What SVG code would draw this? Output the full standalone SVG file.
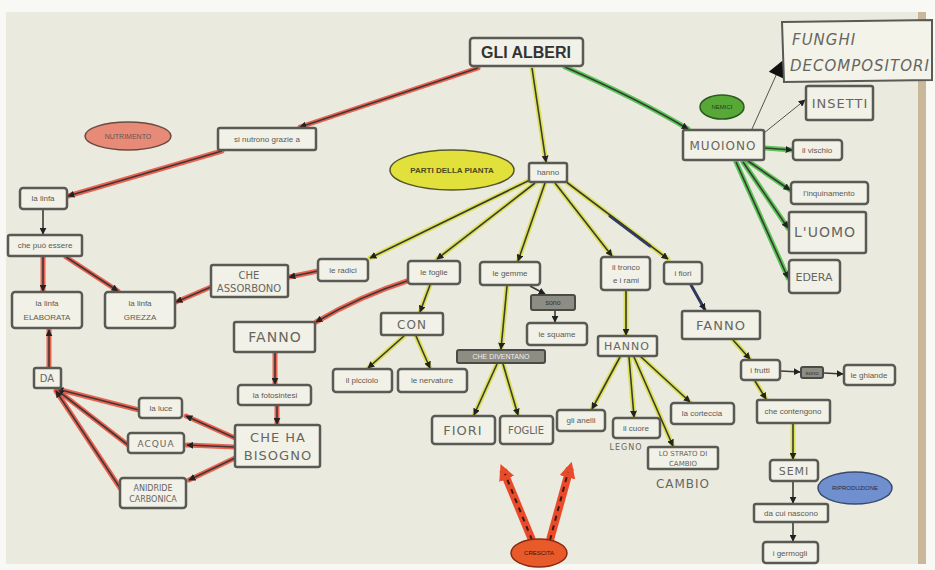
<svg xmlns="http://www.w3.org/2000/svg" width="935" height="570" viewBox="0 0 935 570">
<defs>
<style>
.bx{fill:#f2f1e7;stroke:#5a5a55;stroke-width:2.5}
.dk{fill:#8d8d84;stroke:#4a4a46;stroke-width:2}
.t{font-family:"Liberation Sans",Arial,sans-serif;font-size:8px;fill:#5a5a55;text-anchor:middle}
.h{font-family:"DejaVu Sans",sans-serif;font-size:13px;fill:#666660;text-anchor:middle;letter-spacing:1px}
.hr{stroke:#ea4a3a;stroke-width:5;fill:none;stroke-linecap:round;opacity:.85}
.hy{stroke:#d8e040;stroke-width:5;fill:none;stroke-linecap:round;opacity:.85}
.hg{stroke:#40c040;stroke-width:5;fill:none;stroke-linecap:round;opacity:.85}
.hb{stroke:#283a90;stroke-width:3;fill:none;stroke-linecap:round}
.ln{stroke:#3d3a35;stroke-width:1.6;fill:none;marker-end:url(#ah)}
.lt{stroke:#55524c;stroke-width:1;fill:none}
</style>
<marker id="ah" viewBox="0 0 10 10" refX="9" refY="5" markerWidth="7" markerHeight="7" markerUnits="userSpaceOnUse" orient="auto"><path d="M0,0 L10,5 L0,10 z" fill="#222"/></marker>
<marker id="big" viewBox="0 0 10 10" refX="9" refY="5" markerWidth="20" markerHeight="16" markerUnits="userSpaceOnUse" orient="auto"><path d="M0,0 L10,5 L0,10 z" fill="#111"/></marker>
<marker id="ra" viewBox="0 0 10 10" refX="6" refY="5" markerWidth="16" markerHeight="16" markerUnits="userSpaceOnUse" orient="auto"><path d="M0,0 L10,5 L0,10 z" fill="#e84a2a"/></marker>
</defs>
<rect x="0" y="0" width="935" height="570" fill="#f8f8f4"/>
<rect x="6" y="12" width="918" height="552" fill="#ebeadf"/>
<rect x="918" y="12" width="8" height="552" fill="#c9b89a"/>

<g id="connectors">
<line class="hr" x1="478" y1="68" x2="300" y2="127"/><line class="ln" x1="478" y1="68" x2="300" y2="127"/>
<line class="hr" x1="222" y1="151" x2="68" y2="196"/><line class="ln" x1="222" y1="151" x2="68" y2="196"/>
<line class="ln" x1="43" y1="210" x2="43" y2="234"/>
<line class="hr" x1="43" y1="257" x2="43" y2="291"/><line class="ln" x1="43" y1="257" x2="43" y2="291"/>
<line class="hr" x1="66" y1="257" x2="118" y2="291"/><line class="ln" x1="66" y1="257" x2="118" y2="291"/>
<line class="hr" x1="211" y1="287" x2="176" y2="302"/><line class="ln" x1="211" y1="287" x2="176" y2="302"/>
<line class="hr" x1="318" y1="271" x2="289" y2="277"/><line class="ln" x1="318" y1="271" x2="289" y2="277"/>
<path class="hr" d="M410,280 Q360,296 316,322"/><path class="ln" d="M410,280 Q360,296 316,322"/>
<line class="hr" x1="275" y1="353" x2="275" y2="384"/><line class="ln" x1="275" y1="353" x2="275" y2="384"/>
<line class="hr" x1="277" y1="406" x2="277" y2="424"/><line class="ln" x1="277" y1="406" x2="277" y2="424"/>
<line class="hr" x1="235" y1="438" x2="186" y2="416"/><line class="ln" x1="235" y1="438" x2="186" y2="416"/>
<line class="hr" x1="235" y1="447" x2="187" y2="445"/><line class="ln" x1="235" y1="447" x2="187" y2="445"/>
<line class="hr" x1="235" y1="458" x2="189" y2="480"/><line class="ln" x1="235" y1="458" x2="189" y2="480"/>
<line class="hr" x1="139" y1="410" x2="57" y2="389"/><line class="ln" x1="139" y1="410" x2="57" y2="389"/>
<line class="hr" x1="128" y1="445" x2="57" y2="390"/><line class="ln" x1="128" y1="445" x2="57" y2="390"/>
<line class="hr" x1="120" y1="488" x2="56" y2="391"/><line class="ln" x1="120" y1="488" x2="56" y2="391"/>
<line class="hr" x1="49" y1="367" x2="49" y2="330"/><line class="ln" x1="49" y1="367" x2="49" y2="330"/>
<line class="hy" x1="532" y1="68" x2="546" y2="162"/><line class="ln" x1="532" y1="68" x2="546" y2="162"/>
<line class="hy" x1="530" y1="180" x2="370" y2="258"/><line class="ln" x1="530" y1="180" x2="370" y2="258"/>
<line class="hy" x1="535" y1="183" x2="437" y2="259"/><line class="ln" x1="535" y1="183" x2="437" y2="259"/>
<line class="hy" x1="545" y1="183" x2="518" y2="261"/><line class="ln" x1="545" y1="183" x2="518" y2="261"/>
<line class="hy" x1="555" y1="183" x2="612" y2="256"/><line class="ln" x1="555" y1="183" x2="612" y2="256"/>
<line class="hy" x1="565" y1="181" x2="668" y2="259"/><line class="hb" x1="610" y1="216" x2="650" y2="246"/><line class="ln" x1="565" y1="181" x2="668" y2="259"/>
<line class="hy" x1="430" y1="285" x2="420" y2="312"/><line class="ln" x1="430" y1="285" x2="420" y2="312"/>
<line class="hy" x1="404" y1="336" x2="368" y2="368"/><line class="ln" x1="404" y1="336" x2="368" y2="368"/>
<line class="hy" x1="416" y1="336" x2="430" y2="368"/><line class="ln" x1="416" y1="336" x2="430" y2="368"/>
<line class="hy" x1="507" y1="286" x2="501" y2="349"/><line class="ln" x1="507" y1="286" x2="501" y2="349"/>
<line class="ln" x1="530" y1="286" x2="545" y2="294"/>
<line class="ln" x1="555" y1="311" x2="555" y2="322"/>
<line class="hy" x1="497" y1="364" x2="474" y2="415"/><line class="ln" x1="497" y1="364" x2="474" y2="415"/>
<line class="hy" x1="503" y1="364" x2="518" y2="415"/><line class="ln" x1="503" y1="364" x2="518" y2="415"/>
<line class="hy" x1="626" y1="291" x2="626" y2="335"/><line class="ln" x1="626" y1="291" x2="626" y2="335"/>
<line class="hy" x1="620" y1="357" x2="592" y2="409"/><line class="ln" x1="620" y1="357" x2="592" y2="409"/>
<line class="hy" x1="629" y1="357" x2="634" y2="417"/><line class="ln" x1="629" y1="357" x2="634" y2="417"/>
<line class="hy" x1="634" y1="357" x2="673" y2="446"/><line class="ln" x1="634" y1="357" x2="673" y2="446"/>
<line class="hy" x1="640" y1="356" x2="690" y2="402"/><line class="ln" x1="640" y1="356" x2="690" y2="402"/>
<line class="hb" x1="691" y1="285" x2="705" y2="310"/><line class="ln" x1="691" y1="285" x2="705" y2="310"/>
<line class="hy" x1="733" y1="340" x2="750" y2="359"/><line class="ln" x1="733" y1="340" x2="750" y2="359"/>
<line class="ln" x1="781" y1="371" x2="800" y2="372"/>
<line class="ln" x1="824" y1="373" x2="843" y2="374"/>
<line class="hy" x1="755" y1="381" x2="766" y2="399"/><line class="ln" x1="755" y1="381" x2="766" y2="399"/>
<line class="hy" x1="793" y1="424" x2="793" y2="459"/><line class="ln" x1="793" y1="424" x2="793" y2="459"/>
<line class="ln" x1="793" y1="482" x2="793" y2="503"/>
<line class="ln" x1="793" y1="523" x2="793" y2="541"/>
<path class="hg" d="M565,67 Q640,100 688,129"/><path class="ln" d="M565,67 Q640,100 688,129"/>
<line class="lt" x1="752" y1="129" x2="782" y2="62" marker-end="url(#big)"/>
<line class="lt" x1="764" y1="133" x2="805" y2="100" marker-end="url(#ah)"/>
<line class="hg" x1="765" y1="148" x2="792" y2="150"/><line class="ln" x1="765" y1="148" x2="792" y2="150"/>
<line class="hg" x1="748" y1="161" x2="790" y2="190"/><line class="ln" x1="748" y1="161" x2="790" y2="190"/>
<line class="hg" x1="743" y1="162" x2="788" y2="228"/><line class="ln" x1="743" y1="162" x2="788" y2="228"/>
<line class="hg" x1="736" y1="162" x2="788" y2="278"/><line class="ln" x1="736" y1="162" x2="788" y2="278"/>
<line x1="532" y1="540" x2="503" y2="470" stroke="#ea4a2a" stroke-width="8" marker-end="url(#ra)"/>
<line x1="532" y1="540" x2="505" y2="474" stroke="#3a1a10" stroke-width="2" stroke-dasharray="5 5"/>
<line x1="550" y1="540" x2="570" y2="468" stroke="#ea4a2a" stroke-width="8" marker-end="url(#ra)"/>
<line x1="550" y1="540" x2="568" y2="472" stroke="#3a1a10" stroke-width="2" stroke-dasharray="5 5"/>
</g>

<g id="gli-alberi"><rect class="bx" x="470" y="38" width="113" height="28" rx="3"/><text x="526" y="58" font-family="Liberation Sans,Arial,sans-serif" font-size="16" font-weight="bold" fill="#333" text-anchor="middle">GLI ALBERI</text></g>
<g id="nutrimento"><ellipse cx="128" cy="136" rx="43" ry="14" fill="#e88a78" stroke="#6a4a40" stroke-width="1.5"/><text class="t" x="128" y="139" style="font-size:7px">NUTRIMENTO</text></g>
<g id="si-nutrono"><rect class="bx" x="218" y="128" width="98" height="22" rx="2"/><text class="t" x="267" y="142">si nutrono grazie a</text></g>
<g id="la-linfa"><rect class="bx" x="20" y="188" width="47" height="21" rx="3"/><text class="t" x="43" y="201">la linfa</text></g>
<g id="che-puo-essere"><rect class="bx" x="8" y="235" width="74" height="21" rx="2"/><text class="t" x="45" y="248">che può essere</text></g>
<g id="linfa-elaborata"><rect class="bx" x="12" y="292" width="70" height="36" rx="3"/><text class="t" x="47" y="306">la linfa</text><text class="t" x="47" y="320">ELABORATA</text></g>
<g id="linfa-grezza"><rect class="bx" x="105" y="292" width="70" height="36" rx="3"/><text class="t" x="140" y="306">la linfa</text><text class="t" x="140" y="320">GREZZA</text></g>
<g id="che-assorbono"><rect class="bx" x="211" y="265" width="77" height="32" rx="2"/><text class="h" x="249" y="279" style="font-size:10px;letter-spacing:0">CHE</text><text class="h" x="249" y="292" style="font-size:10px;letter-spacing:0">ASSORBONO</text></g>
<g id="le-radici"><rect class="bx" x="318" y="259" width="50" height="22" rx="3"/><text class="t" x="343" y="273">le radici</text></g>
<g id="le-foglie"><rect class="bx" x="408" y="261" width="52" height="23" rx="3"/><text class="t" x="434" y="275">le foglie</text></g>
<g id="le-gemme"><rect class="bx" x="480" y="262" width="60" height="23" rx="3"/><text class="t" x="510" y="276">le gemme</text></g>
<g id="sono-gemme"><rect class="dk" x="531" y="295" width="44" height="15" rx="2"/><text class="t" x="553" y="305" style="fill:#333;font-size:7px">sono</text></g>
<g id="le-squame"><rect class="bx" x="527" y="323" width="60" height="22" rx="3"/><text class="t" x="557" y="337">le squame</text></g>
<g id="il-tronco"><rect class="bx" x="601" y="257" width="49" height="33" rx="3"/><text class="t" x="626" y="270">il tronco</text><text class="t" x="626" y="283">e i rami</text></g>
<g id="i-fiori"><rect class="bx" x="664" y="262" width="38" height="22" rx="3"/><text class="t" x="683" y="276">i fiori</text></g>
<g id="hanno"><rect class="bx" x="529" y="163" width="38" height="19" rx="2"/><text class="t" x="548" y="175">hanno</text></g>
<g id="parti-della-pianta"><ellipse cx="452" cy="170" rx="62" ry="20" fill="#e2e03a" stroke="#55552a" stroke-width="1.5"/><text class="t" x="452" y="173" style="font-weight:bold;fill:#4a4a20">PARTI DELLA PIANTA</text></g>
<g id="nemici"><ellipse cx="722" cy="107" rx="22" ry="12" fill="#58a838" stroke="#2a5a20" stroke-width="1.5"/><text class="t" x="722" y="109" style="font-size:6px;fill:#1e3e18">NEMICI</text></g>
<g id="muoiono"><rect class="bx" x="683" y="130" width="81" height="30" rx="2"/><text class="h" x="723" y="150" style="font-size:12px">MUOIONO</text></g>
<g id="funghi"><path d="M782,22 L932,20 L932,80 L784,82 Z" fill="#f4f3ea" stroke="#5a5a55" stroke-width="2"/><text x="792" y="45" font-family="DejaVu Sans,sans-serif" font-size="15" font-style="italic" fill="#666660" letter-spacing="1">FUNGHI</text><text x="790" y="71" font-family="DejaVu Sans,sans-serif" font-size="15" font-style="italic" fill="#666660" letter-spacing="1">DECOMPOSITORI</text></g>
<g id="insetti"><rect class="bx" x="806" y="86" width="67" height="34" rx="2"/><text class="h" x="840" y="108">INSETTI</text></g>
<g id="il-vischio"><rect class="bx" x="793" y="140" width="49" height="20" rx="3"/><text class="t" x="817" y="153">il vischio</text></g>
<g id="inquinamento"><rect class="bx" x="791" y="182" width="77" height="22" rx="3"/><text class="t" x="829" y="196">l'inquinamento</text></g>
<g id="luomo"><rect class="bx" x="789" y="212" width="77" height="41" rx="2"/><text class="h" x="825" y="237" style="font-size:14px">L'UOMO</text></g>
<g id="edera"><rect class="bx" x="789" y="260" width="51" height="33" rx="3"/><text class="h" x="814" y="281" style="font-size:11px;letter-spacing:0">EDERA</text></g>
<g id="fanno-foglie"><rect class="bx" x="234" y="322" width="81" height="30" rx="2"/><text class="h" x="275" y="342" style="font-size:14px">FANNO</text></g>
<g id="fotosintesi"><rect class="bx" x="238" y="385" width="73" height="20" rx="3"/><text class="t" x="275" y="398">la fotosintesi</text></g>
<g id="che-ha-bisogno"><rect class="bx" x="235" y="425" width="85" height="42" rx="2"/><text class="h" x="278" y="442">CHE  HA</text><text class="h" x="278" y="460">BISOGNO</text></g>
<g id="la-luce"><rect class="bx" x="139" y="398" width="43" height="20" rx="3"/><text class="t" x="161" y="411">la luce</text></g>
<g id="acqua"><rect class="bx" x="128" y="433" width="56" height="20" rx="3"/><text class="h" x="156" y="447" style="font-size:9px">ACQUA</text></g>
<g id="anidride"><rect class="bx" x="120" y="478" width="66" height="30" rx="3"/><text class="h" x="153" y="491" style="font-size:8px;letter-spacing:0">ANIDRIDE</text><text class="h" x="153" y="502" style="font-size:8px;letter-spacing:0">CARBONICA</text></g>
<g id="da"><rect class="bx" x="34" y="368" width="27" height="20" rx="2"/><text class="h" x="47" y="382" style="font-size:10px;letter-spacing:0">DA</text></g>
<g id="con"><rect class="bx" x="381" y="313" width="62" height="22" rx="2"/><text class="h" x="412" y="329" style="font-size:12px">CON</text></g>
<g id="il-picciolo"><rect class="bx" x="333" y="369" width="59" height="23" rx="3"/><text class="t" x="362" y="383">il picciolo</text></g>
<g id="le-nervature"><rect class="bx" x="398" y="369" width="69" height="23" rx="3"/><text class="t" x="432" y="383">le nervature</text></g>
<g id="che-diventano"><rect class="dk" x="457" y="350" width="88" height="13" rx="2"/><text class="t" x="501" y="359" style="fill:#eee;font-size:7px">CHE DIVENTANO</text></g>
<g id="fiori"><rect class="bx" x="432" y="416" width="63" height="28" rx="3"/><text class="h" x="463" y="435">FIORI</text></g>
<g id="foglie"><rect class="bx" x="500" y="416" width="53" height="28" rx="3"/><text class="h" x="526" y="434" style="font-size:10px;letter-spacing:0">FOGLIE</text></g>
<g id="hanno-tronco"><rect class="bx" x="598" y="336" width="59" height="20" rx="2"/><text class="h" x="627" y="350" style="font-size:11px">HANNO</text></g>
<g id="gli-anelli"><rect class="bx" x="557" y="410" width="48" height="21" rx="3"/><text class="t" x="581" y="423">gli anelli</text></g>
<g id="il-cuore"><rect class="bx" x="613" y="418" width="47" height="20" rx="3"/><text class="t" x="636" y="431">il cuore</text><text class="h" x="626" y="450" style="font-size:8px">LEGNO</text></g>
<g id="la-corteccia"><rect class="bx" x="671" y="403" width="63" height="21" rx="3"/><text class="t" x="702" y="416">la corteccia</text></g>
<g id="cambio"><rect class="bx" x="648" y="447" width="70" height="22" rx="2"/><text class="h" x="683" y="456" style="font-size:7px;letter-spacing:0">LO STRATO DI</text><text class="h" x="683" y="466" style="font-size:7px;letter-spacing:0">CAMBIO</text><text class="h" x="683" y="488" style="font-size:12px">CAMBIO</text></g>
<g id="fanno-fiori"><rect class="bx" x="682" y="311" width="78" height="28" rx="2"/><text class="h" x="721" y="330">FANNO</text></g>
<g id="i-frutti"><rect class="bx" x="741" y="360" width="39" height="20" rx="3"/><text class="t" x="760" y="373">i frutti</text></g>
<g id="sono-frutti"><rect class="dk" x="801" y="367" width="22" height="11" rx="2"/><text class="t" x="812" y="375" style="fill:#333;font-size:6px">sono</text></g>
<g id="le-ghiande"><rect class="bx" x="844" y="365" width="51" height="20" rx="3"/><text class="t" x="869" y="378">le ghiande</text></g>
<g id="che-contengono"><rect class="bx" x="757" y="400" width="73" height="23" rx="2"/><text class="t" x="793" y="414">che contengono</text></g>
<g id="semi"><rect class="bx" x="770" y="460" width="48" height="21" rx="3"/><text class="h" x="794" y="475" style="font-size:11px">SEMI</text></g>
<g id="riproduzione"><ellipse cx="855" cy="488" rx="37" ry="16" fill="#6f8fcf" stroke="#3a4a70" stroke-width="1.5"/><text class="t" x="855" y="490" style="font-size:6px;fill:#1e2a50">RIPRODUZIONE</text></g>
<g id="da-cui-nascono"><rect class="bx" x="754" y="504" width="74" height="18" rx="2"/><text class="t" x="791" y="516">da cui nascono</text></g>
<g id="i-germogli"><rect class="bx" x="763" y="542" width="55" height="21" rx="3"/><text class="t" x="790" y="556">i germogli</text></g>
<g id="crescita"><ellipse cx="539" cy="553" rx="28" ry="14" fill="#e85a2a" stroke="#8a2a10" stroke-width="1.5"/><text class="t" x="539" y="555" style="font-size:6px;fill:#3a1208">CRESCITA</text></g>
</svg>
